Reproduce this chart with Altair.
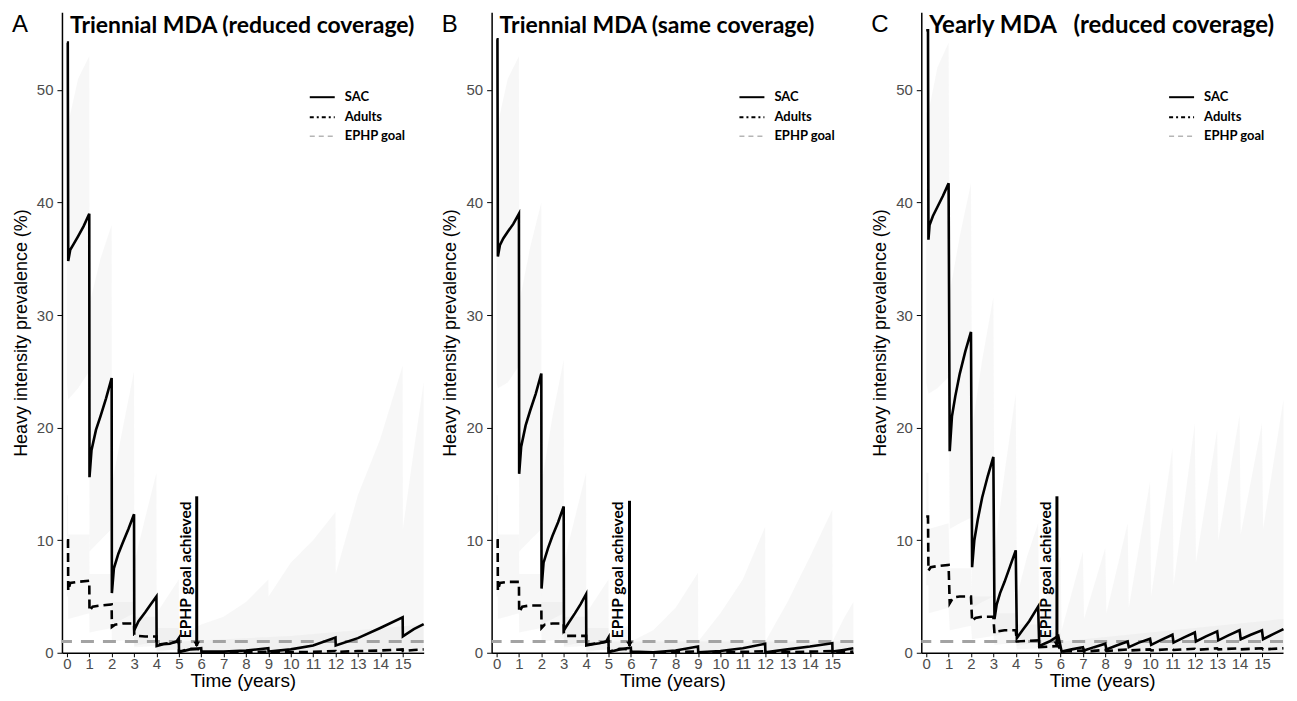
import altair as alt
import pandas as pd

# ---------------- data ----------------
LETTERS = ["A", "B", "C"]
TITLES = ["Triennial MDA (reduced coverage)",
          "Triennial MDA (same coverage)",
          "Yearly MDA\u00a0\u00a0 (reduced coverage)"]
LEGEND_LABELS = ["SAC", "Adults", "EPHP goal"]
ANNOT_TEXT = "EPHP goal achieved"
EPHP_GOAL = 1.0
X_TICKS = list(range(16))
Y_TICKS = [0, 10, 20, 30, 40, 50]

# Panel A - SAC mean
A_SAC_T = [0, 0.04, 0.06, 0.15, 0.3, 0.5, 0.75, 1.0, 1.01, 1.1, 1.3, 1.5, 1.75, 2.0,
           2.01, 2.1, 2.3, 2.5, 2.75, 3.0, 3.01, 3.2, 3.5, 3.75, 4.0, 4.01, 4.3, 4.6,
           4.9, 5.0, 5.01, 5.5, 6, 6.01, 7, 8, 9, 9.01, 10, 11, 12, 12.01, 13, 14, 15,
           15.01, 15.5, 15.94]
A_SAC_V = [54.2, 54.2, 34.8, 35.8, 36.3, 37.0, 37.9, 39.0, 15.6, 18.0, 19.8, 21.0, 22.6,
           24.4, 5.3, 7.5, 8.8, 9.8, 11.0, 12.3, 2.0, 2.8, 3.6, 4.3, 5.0, 0.6, 0.75, 0.8,
           1.0, 1.3, 0.05, 0.3, 0.4, 0.1, 0.1, 0.2, 0.4, 0.1, 0.3, 0.65, 1.35, 0.65, 1.3,
           2.2, 3.15, 1.45, 2.1, 2.55]
# Panel A - Adults mean
A_AD_T = [0, 0.05, 0.06, 0.15, 0.5, 1.0, 1.01, 1.15, 1.5, 2.0, 2.01, 2.15, 2.5, 3.0,
          3.01, 3.15, 3.5, 4.0, 4.01, 4.5, 5.0, 5.01, 5.5, 6.0, 6.01, 7, 8, 9, 9.01, 10,
          11, 12, 12.01, 13, 14, 15, 15.01, 15.5, 15.94]
A_AD_V = [10.0, 10.0, 5.5, 6.2, 6.3, 6.4, 3.7, 4.1, 4.2, 4.3, 2.3, 2.5, 2.6, 2.6, 1.6,
          1.5, 1.45, 1.45, 0.7, 0.85, 1.0, 0.1, 0.35, 0.3, 0.05, 0.05, 0.05, 0.1, 0.03,
          0.05, 0.08, 0.15, 0.08, 0.15, 0.2, 0.3, 0.15, 0.25, 0.3]
# Panel A - SAC uncertainty band
A_BS_T = [0.0, 0.06, 0.5, 1.0, 1.01, 1.5, 2.0, 2.01, 2.5, 3.0, 3.01, 3.5, 4.0, 4.01, 4.5,
          5.0, 5.01, 6, 7, 8, 9, 9.01, 10, 11, 12, 12.01, 13, 14, 15, 15.01, 15.5, 15.94]
A_BS_LO = [24, 22.5, 23.5, 25, 9, 10, 11, 2.5, 3.0, 3.5, 0.6, 0.8, 1.0, 0.1, 0.2, 0.3, 0,
           0, 0, 0, 0, 0, 0, 0, 0, 0, 0, 0, 0, 0, 0, 0]
A_BS_HI = [47, 47, 51, 53, 31, 35, 38, 15, 20, 25, 8, 12, 16, 3.5, 5, 6.5, 1.5, 2.5, 3.2,
           4.5, 6.5, 5, 8, 10, 12.5, 7, 14, 19, 25.5, 11, 18, 24]
# Panel A - Adults uncertainty band
A_BA_T = [0.0, 0.05, 0.06, 1.0, 1.01, 2.0, 2.01, 3.0, 3.01, 4.0, 4.01, 5.0, 5.01, 10, 15.94]
A_BA_LO = [5, 5, 3.0, 3.5, 1.8, 2.2, 1.0, 1.2, 0.5, 0.6, 0.2, 0.3, 0, 0, 0]
A_BA_HI = [14, 14, 10.5, 10.5, 7, 7, 4.5, 4.5, 3.2, 3.2, 2.2, 2.2, 1.0, 1.5, 2.5]

# Panel B - SAC mean
B_SAC_T = [0, 0.04, 0.06, 0.15, 0.3, 0.5, 0.75, 1.0, 1.01, 1.1, 1.3, 1.5, 1.75, 2.0,
           2.01, 2.1, 2.3, 2.5, 2.75, 3.0, 3.01, 3.2, 3.5, 3.75, 4.0, 4.01, 4.3, 4.6,
           4.9, 5.0, 5.01, 5.5, 6.0, 6.01, 7, 8, 9, 9.01, 10, 11, 12, 12.01, 13, 14, 15,
           15.01, 15.5, 15.94]
B_SAC_V = [54.5, 54.5, 35.2, 36.2, 36.8, 37.4, 38.1, 39.0, 15.9, 18.3, 20.2, 21.5, 23.0,
           24.8, 5.7, 8.0, 9.3, 10.4, 11.6, 13.0, 2.0, 2.6, 3.5, 4.3, 5.2, 0.65, 0.75,
           0.85, 1.0, 1.35, 0.05, 0.3, 0.45, 0.1, 0.05, 0.2, 0.55, 0.05, 0.15, 0.4, 0.8,
           0.05, 0.3, 0.55, 0.85, 0.1, 0.25, 0.4]
# Panel B - Adults mean
B_AD_T = [0, 0.05, 0.06, 0.15, 0.5, 1.0, 1.01, 1.15, 1.5, 2.0, 2.01, 2.15, 2.5, 3.0,
          3.01, 3.15, 3.5, 4.0, 4.01, 4.5, 5.0, 5.01, 5.5, 6.0, 6.01, 7, 8, 9, 9.01, 10,
          11, 12, 12.01, 13, 14, 15, 15.01, 15.5, 15.94]
B_AD_V = [10.0, 10.0, 5.5, 6.2, 6.3, 6.3, 3.6, 4.1, 4.2, 4.2, 2.2, 2.5, 2.6, 2.6, 1.6,
          1.5, 1.5, 1.5, 0.7, 0.85, 1.0, 0.1, 0.35, 0.3, 0.05, 0.03, 0.05, 0.12, 0.03,
          0.05, 0.08, 0.13, 0.03, 0.06, 0.1, 0.15, 0.04, 0.08, 0.1]
# Panel B - SAC uncertainty band
B_BS_T = [0.0, 0.06, 0.5, 1.0, 1.01, 1.5, 2.0, 2.01, 2.5, 3.0, 3.01, 3.5, 4.0, 4.01, 4.5,
          5.0, 5.01, 6.0, 6.01, 7, 8, 9, 9.01, 10, 11, 12, 12.01, 13, 14, 15, 15.01,
          15.5, 15.94]
B_BS_LO = [24, 23.5, 24, 25.5, 9, 10, 11, 2.5, 3.0, 3.5, 0.6, 0.8, 1.0, 0.1, 0.2, 0.3, 0,
           0, 0, 0, 0, 0, 0, 0, 0, 0, 0, 0, 0, 0, 0, 0, 0]
B_BS_HI = [47, 47, 51, 53, 31, 36, 40, 15, 21, 26, 8, 12, 16, 3.5, 5, 6.5, 1.5, 2.5, 1.0,
           2.0, 4.0, 7.1, 1.0, 3.5, 6.5, 11.2, 1.0, 4.5, 8.5, 12.7, 1.0, 3.0, 4.5]
# Panel B - Adults uncertainty band
B_BA_T = [0.0, 0.05, 0.06, 1.0, 1.01, 2.0, 2.01, 3.0, 3.01, 4.0, 4.01, 5.0, 5.01, 10, 15.94]
B_BA_LO = [5, 5, 3.0, 3.5, 1.8, 2.2, 1.0, 1.2, 0.5, 0.6, 0.2, 0.3, 0, 0, 0]
B_BA_HI = [14, 14, 10.5, 10.5, 7, 7, 4.5, 4.5, 3.2, 3.2, 2.2, 2.2, 1.0, 1.0, 1.0]

# Panel C - SAC mean
C_SAC_T = [0, 0.08, 0.1, 0.15, 0.3, 0.5, 0.75, 1.0, 1.05, 1.15, 1.3, 1.5, 1.75, 2.0,
           2.05, 2.15, 2.3, 2.5, 2.75, 3.0, 3.05, 3.15, 3.3, 3.5, 3.75, 4.0, 4.05, 4.3,
           4.6, 5.0, 5.05, 5.5, 5.9, 6.05, 6.5, 7.0, 7.05, 7.5, 8.0, 8.05, 8.5, 9.0,
           9.05, 9.5, 10.0, 10.05, 10.5, 11.0, 11.05, 11.5, 12.0, 12.05, 12.5, 13.0,
           13.05, 13.5, 14.0, 14.05, 14.5, 15.0, 15.05, 15.5, 15.96]
C_SAC_V = [55.3, 55.3, 36.7, 38.0, 38.8, 39.6, 40.6, 41.7, 17.9, 21.0, 22.8, 24.8, 26.8,
           28.5, 7.6, 10.0, 11.8, 13.8, 15.7, 17.4, 3.0, 4.3, 5.3, 6.3, 7.7, 9.1, 1.3,
           2.0, 2.8, 4.1, 0.6, 1.0, 1.5, 0.1, 0.3, 0.5, 0.2, 0.5, 0.8, 0.3, 0.65, 1.0,
           0.5, 0.9, 1.25, 0.7, 1.15, 1.6, 0.9, 1.35, 1.8, 1.0, 1.45, 1.9, 1.1, 1.55, 2.0,
           1.2, 1.6, 2.0, 1.2, 1.65, 2.1]
# Panel C - Adults mean
C_AD_T = [0, 0.08, 0.1, 0.2, 0.5, 1.0, 1.05, 1.2, 1.5, 2.0, 2.05, 2.2, 2.5, 3.0, 3.05,
          3.2, 3.5, 4.0, 4.05, 4.5, 5.0, 5.05, 5.5, 5.9, 6.05, 7.0, 7.05, 8.0, 8.05, 9.0,
          9.05, 10.0, 10.05, 11.0, 11.05, 12.0, 12.05, 13.0, 13.05, 14.0, 14.05, 15.0,
          15.05, 15.96]
C_AD_V = [12.1, 12.1, 7.3, 7.6, 7.7, 7.8, 4.4, 4.9, 5.0, 5.0, 2.8, 3.1, 3.2, 3.2, 1.7,
          1.9, 2.0, 2.0, 1.0, 1.05, 1.1, 0.5, 0.55, 0.6, 0.1, 0.2, 0.1, 0.25, 0.15, 0.3,
          0.2, 0.3, 0.2, 0.35, 0.25, 0.35, 0.25, 0.4, 0.3, 0.4, 0.3, 0.4, 0.3, 0.4]
# Panel C - SAC uncertainty band
C_BS_T = [0, 0.1, 0.5, 1.0, 1.05, 1.5, 2.0, 2.05, 2.5, 3.0, 3.05, 3.5, 4.0, 4.05, 4.5,
          5.0, 5.05, 5.5, 6.0, 6.05, 7.0, 7.05, 8.0, 8.05, 9.0, 9.05, 10.0, 10.05, 11.0,
          11.05, 12.0, 12.05, 13.0, 13.05, 14.0, 14.05, 15.0, 15.05, 15.96]
C_BS_LO = [24, 23, 23.5, 24.5, 11, 11.5, 12, 4, 4.5, 5, 1.5, 1.8, 2, 0.6, 0.8, 1.0, 0.3,
           0.3, 0.4, 0.05, 0, 0, 0, 0, 0, 0, 0, 0, 0, 0, 0, 0, 0, 0, 0, 0, 0, 0, 0]
C_BS_HI = [48, 48, 52, 54.2, 32, 37, 41.7, 20, 26, 31.6, 9, 16, 23, 5, 8.5, 11.5, 3, 6,
           8.5, 2, 9, 3, 9.3, 3.5, 11.5, 4, 15.2, 5, 18.2, 6, 20.4, 8, 19.8, 10, 21.1,
           10.5, 20.4, 11, 22.5]
# Panel C - Adults uncertainty band
C_BA_T = [0, 0.1, 0.11, 1.0, 1.05, 2.0, 2.05, 3.0, 3.05, 4.0, 4.05, 5.0, 5.05, 6.0, 6.05,
          10, 15.96]
C_BA_LO = [6, 6, 3.5, 4, 2, 2.4, 1.2, 1.5, 0.7, 0.9, 0.3, 0.4, 0.1, 0.1, 0, 0, 0]
C_BA_HI = [16, 16, 11, 11.5, 7.5, 7.5, 5, 5, 3.5, 3.5, 2.5, 2.5, 1.8, 1.8, 1.0, 1.8, 3.0]

# annotation ("EPHP goal achieved") per panel
ARROW_T = [5.8, 5.94, 5.84]
ARROW_TOP = [13.9, 13.5, 13.9]
ARROW_TEXT_T = [5.34, 5.42, 5.36]

# ---------------- styling ----------------
PANEL_W = 362
PANEL_H = 641
X_DOMAIN = [-0.22, 15.94]
Y_DOMAIN = [0, 56.9]
FONT = "Liberation Sans"
BOLD_FONT = "Lato"
TITLE_SIZES = [23, 23, 24]

xs = alt.Scale(domain=X_DOMAIN, nice=False, zero=False)
ys = alt.Scale(domain=Y_DOMAIN, nice=False, zero=False)

xaxis = alt.Axis(values=X_TICKS, title="Time (years)", grid=False, labelFontSize=15,
                 labelColor="#4d4d4d", labelFont=FONT, titleFont=FONT, titleFontSize=19,
                 titleFontWeight="normal", titleColor="black", domainColor="black",
                 domainWidth=1.5, tickColor="black", tickSize=4, labelPadding=0,
                 titlePadding=0, labelFlush=False, labelOverlap=False)
yaxis = alt.Axis(values=Y_TICKS, title="Heavy intensity prevalence (%)", grid=False,
                 labelFontSize=15, labelColor="#4d4d4d", labelFont=FONT, titleFont=FONT,
                 titleFontSize=18, titleFontWeight="normal", titleColor="black",
                 domainColor="black", domainWidth=1.5, tickColor="black", tickSize=5,
                 labelPadding=4, titlePadding=6)


def X(field="t"):
    return alt.X(f"{field}:Q", scale=xs, axis=xaxis)


def Y(field="v"):
    return alt.Y(f"{field}:Q", scale=ys, axis=yaxis)


def panel(i, sac_t, sac_v, ad_t, ad_v, bs_t, bs_lo, bs_hi, ba_t, ba_lo, ba_hi):
    sac = pd.DataFrame({"t": sac_t, "v": sac_v, "i": range(len(sac_t))})
    ad = pd.DataFrame({"t": ad_t, "v": ad_v, "i": range(len(ad_t))})
    bs = pd.DataFrame({"t": bs_t, "lo": bs_lo, "hi": bs_hi})
    ba = pd.DataFrame({"t": ba_t, "lo": ba_lo, "hi": ba_hi})
    goal = pd.DataFrame({"v": [EPHP_GOAL]})
    arrow = pd.DataFrame({"t": [ARROW_T[i]], "v": [0.6], "v2": [ARROW_TOP[i]]})
    head = pd.DataFrame({"t": [ARROW_T[i]], "v": [0.75]})
    atext = pd.DataFrame({"t": [ARROW_TEXT_T[i]], "v": [1.3], "s": [ANNOT_TEXT]})
    one = pd.DataFrame({"k": [0]})

    band_s = alt.Chart(bs).mark_area(color="#cfcfcf", opacity=0.16).encode(
        x=X(), y=Y("lo"), y2="hi")
    band_a = alt.Chart(ba).mark_area(color="#cfcfcf", opacity=0.16).encode(
        x=X(), y=Y("lo"), y2="hi")
    goal_l = alt.Chart(goal).mark_rule(color="#a3a3a3", strokeWidth=3,
                                       strokeDash=[13, 9]).encode(y=Y())
    ad_l = alt.Chart(ad).mark_line(color="black", strokeWidth=2.6,
                                   strokeDash=[9, 5]).encode(x=X(), y=Y(), order="i:Q")
    sac_l = alt.Chart(sac).mark_line(color="black", strokeWidth=2.6).encode(
        x=X(), y=Y(), order="i:Q")
    arr = alt.Chart(arrow).mark_rule(color="black", strokeWidth=3).encode(
        x=X(), y=Y(), y2="v2")
    arr_h = alt.Chart(head).mark_point(shape="triangle-down", filled=True, size=45,
                                       color="black", opacity=1).encode(x=X(), y=Y())
    arr_t = alt.Chart(atext).mark_text(angle=270, align="left", baseline="middle",
                                       font=BOLD_FONT, fontWeight="bold", fontSize=15.5,
                                       color="black").encode(x=X(), y=Y(), text="s:N")
    title = alt.Chart(one).mark_text(align="left", baseline="alphabetic", font=BOLD_FONT,
                                     fontWeight="bold", fontSize=TITLE_SIZES[i],
                                     color="black").encode(
        x=alt.value(8), y=alt.value(21), text=alt.value(TITLES[i]))
    letter = alt.Chart(one).mark_text(align="left", baseline="alphabetic", font=FONT,
                                      fontSize=24, color="black").encode(
        x=alt.value(-50), y=alt.value(20), text=alt.value(LETTERS[i]))

    leg_y = [85, 105, 124]
    leg = []
    leg.append(alt.Chart(one).mark_rule(color="black", strokeWidth=2).encode(
        x=alt.value(248), x2=alt.value(273), y=alt.value(leg_y[0])))
    leg.append(alt.Chart(one).mark_rule(color="black", strokeWidth=2,
                                        strokeDash=[4, 3, 2, 3]).encode(
        x=alt.value(248), x2=alt.value(273), y=alt.value(leg_y[1])))
    leg.append(alt.Chart(one).mark_rule(color="#b5b5b5", strokeWidth=1.5,
                                        strokeDash=[5, 4]).encode(
        x=alt.value(248), x2=alt.value(273), y=alt.value(leg_y[2])))
    for k in range(3):
        leg.append(alt.Chart(one).mark_text(align="left", baseline="middle",
                                            font=BOLD_FONT, fontWeight="bold",
                                            fontSize=13, color="black").encode(
            x=alt.value(283), y=alt.value(leg_y[k]), text=alt.value(LEGEND_LABELS[k])))

    return alt.layer(band_s, band_a, goal_l, ad_l, sac_l, arr, arr_h, arr_t, title,
                     letter, *leg).properties(width=PANEL_W, height=PANEL_H)


pa = panel(0, A_SAC_T, A_SAC_V, A_AD_T, A_AD_V, A_BS_T, A_BS_LO, A_BS_HI,
           A_BA_T, A_BA_LO, A_BA_HI)
pb = panel(1, B_SAC_T, B_SAC_V, B_AD_T, B_AD_V, B_BS_T, B_BS_LO, B_BS_HI,
           B_BA_T, B_BA_LO, B_BA_HI)
pc = panel(2, C_SAC_T, C_SAC_V, C_AD_T, C_AD_V, C_BS_T, C_BS_LO, C_BS_HI,
           C_BA_T, C_BA_LO, C_BA_HI)

chart = alt.hconcat(pa, pb, pc, spacing=68, bounds="flush").properties(
    padding={"left": 4, "top": 4, "right": 0, "bottom": 0},
    background="white",
).configure_view(stroke="transparent", strokeWidth=0)

chart.save("out.html", embed_options={"renderer": "svg", "actions": False})
